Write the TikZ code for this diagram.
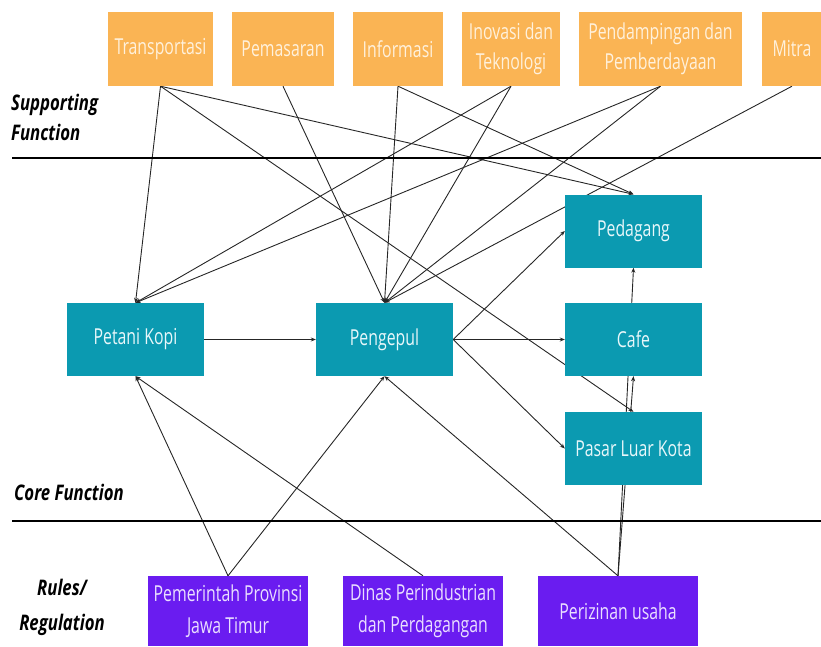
\documentclass[tikz,border=0pt]{standalone}
\usepackage{fontspec}
\setmainfont{Open Sans}
\newfontfamily\boxfont{Open Sans}[FakeStretch=0.72]
\newfontfamily\lanefont{Open Sans}[FakeStretch=0.78]
\usetikzlibrary{arrows.meta,backgrounds}
\definecolor{orng}{HTML}{FAB454}
\definecolor{orngtxt}{HTML}{FFF1DC}
\definecolor{tealbox}{HTML}{0B9AB1}
\definecolor{tealtxt}{HTML}{E8F7FA}
\definecolor{purp}{HTML}{6A1CF0}
\definecolor{purptxt}{HTML}{EADFFF}
\definecolor{linec}{HTML}{262626}
\tikzset{
  supbox/.style={fill=orng, text=orngtxt, minimum height=74pt, inner sep=0pt, align=center,
    font=\boxfont\fontsize{22}{30}\selectfont},
  corebox/.style={fill=tealbox, text=tealtxt, minimum width=137pt, minimum height=73pt, inner sep=0pt,
    align=center, font=\boxfont\fontsize{22}{30}\selectfont},
  regbox/.style={fill=purp, text=purptxt, minimum width=160pt, minimum height=70pt, inner sep=0pt,
    align=center, font=\boxfont\fontsize{22}{32}\selectfont},
  conn/.style={draw=linec, line width=0.9pt, -{Stealth[length=5pt,width=4pt]}},
  lanelabel/.style={inner sep=0pt, font=\lanefont\fontsize{21.5}{30}\selectfont\bfseries\itshape, text=black},
  sepline/.style={draw=black, line width=2.4pt}
}
\begin{document}
\begin{tikzpicture}[x=1pt,y=-1pt]
\useasboundingbox (0,0) rectangle (821,646);
% separator lines
\coordinate (s1a) at (12,158); \coordinate (s1b) at (821,158);
\coordinate (s2a) at (12,521); \coordinate (s2b) at (821,521);
\draw[sepline] (s1a) -- (s1b);
\draw[sepline] (s2a) -- (s2b);
% lane labels
\node[lanelabel, anchor=west, align=left] (lsup) at (11,117) {Supporting\\Function};
\node[lanelabel, anchor=west] (lcore) at (14,492) {Core Function};
\node[lanelabel, align=center, font=\lanefont\fontsize{21.5}{35}\selectfont\bfseries\itshape] (lrule) at (62,607) {Rules/\\Regulation};
% supporting functions
\node[supbox, minimum width=105pt] (tr) at (160.5,49) {Transportasi};
\node[supbox, minimum width=102pt] (pm) at (283,49) {Pemasaran};
\node[supbox, minimum width=90pt] (inf) at (398,49) {Informasi};
\node[supbox, minimum width=98pt] (ino) at (511,49) {Inovasi dan\\Teknologi};
\node[supbox, minimum width=163pt] (pd) at (660.5,49) {Pendampingan dan\\Pemberdayaan};
\node[supbox, minimum width=60pt] (mt) at (792,49) {Mitra};
% core functions
\node[corebox] (pk) at (135.5,339.5) {Petani Kopi};
\node[corebox] (pg) at (384.5,339.5) {Pengepul};
\node[corebox] (pdg) at (633.5,231) {Pedagang};
\node[corebox] (cf) at (633.5,339.5) {Cafe};
\node[corebox] (pl) at (633.5,448.5) {Pasar Luar Kota};
% rules / regulation
\node[regbox] (pj) at (228,611) {Pemerintah Provinsi\\Jawa Timur};
\node[regbox] (dp) at (423,611) {Dinas Perindustrian\\dan Perdagangan};
\node[regbox] (pu) at (618,611) {Perizinan usaha};
% connectors
\begin{scope}[on background layer]
\draw[conn] (tr.south) -- (pk.north);
\draw[conn] (tr.south) -- (pdg.north);
\draw[conn] (tr.south) -- (pl.north);
\draw[conn] (pm.south) -- (pg.north);
\draw[conn] (inf.south) -- (pg.north);
\draw[conn] (inf.south) -- (pdg.north);
\draw[conn] (ino.south) -- (pk.north);
\draw[conn] (ino.south) -- (pg.north);
\draw[conn] (pd.south) -- (pk.north);
\draw[conn] (pd.south) -- (pg.north);
\draw[conn] (mt.south) -- (pg.north);
\draw[conn] (pk.east) -- (pg.west);
\draw[conn] (pg.east) -- (pdg.west);
\draw[conn] (pg.east) -- (cf.west);
\draw[conn] (pg.east) -- (pl.west);
\draw[conn] (pj.north) -- (pk.south);
\draw[conn] (pj.north) -- (pg.south);
\draw[conn] (dp.north) -- (pk.south);
\draw[conn] (pu.north) -- (pg.south);
\draw[conn] (pu.north) -- (cf.south);
\draw[conn] (pu.north) -- (pdg.south);
\end{scope}
\end{tikzpicture}
\end{document}
